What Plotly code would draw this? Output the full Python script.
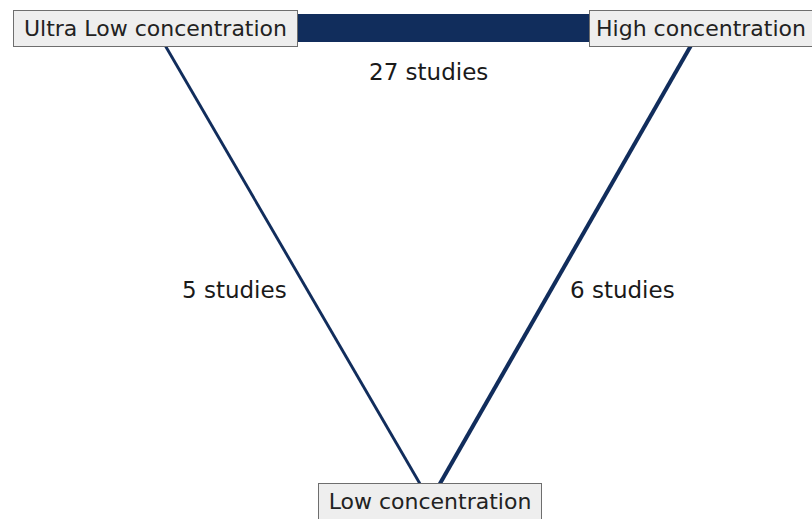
import plotly.graph_objects as go

# ---- data ----
nodes = ["Ultra Low concentration", "High concentration", "Low concentration"]
edge_from = ["Ultra Low concentration", "Ultra Low concentration", "High concentration"]
edge_to = ["High concentration", "Low concentration", "Low concentration"]
edge_studies = [27, 5, 6]

# ---- layout (node placement in plot coordinates, y downwards) ----
node_pos = {
    "Ultra Low concentration": (155, 28),
    "High concentration": (701, 28),
    "Low concentration": (430, 501),
}
node_box_w = {
    "Ultra Low concentration": 273,
    "High concentration": 212,
    "Low concentration": 212,
}
label_shift = [(0, -44), (-58, -25), (57, -25)]

EDGE_COLOR = "#112d5c"


def edge_width(s):
    return 1.14 * s - 2.8


fig = go.Figure()

for f, t, s in zip(edge_from, edge_to, edge_studies):
    x0, y0 = node_pos[f]
    x1, y1 = node_pos[t]
    fig.add_trace(go.Scatter(
        x=[x0, x1], y=[y0, y1], mode="lines",
        line=dict(color=EDGE_COLOR, width=edge_width(s)),
        hoverinfo="skip", showlegend=False,
    ))

# edge labels
for (f, t, s), (dx, dy) in zip(zip(edge_from, edge_to, edge_studies), label_shift):
    x0, y0 = node_pos[f]
    x1, y1 = node_pos[t]
    fig.add_annotation(
        x=(x0 + x1) / 2, y=(y0 + y1) / 2, text=f"{s} studies",
        showarrow=False, xshift=dx, yshift=dy,
        font=dict(family="DejaVu Sans", size=23, color="#1a1a1a"),
    )

# node boxes
for n in nodes:
    x, y = node_pos[n]
    fig.add_annotation(
        x=x, y=y, text=n, showarrow=False, width=node_box_w[n],
        font=dict(family="DejaVu Sans", size=22, color="#222222"),
        bgcolor="#eeeeee", bordercolor="#6e6e6e", borderwidth=1, borderpad=5,
    )

fig.update_xaxes(range=[0, 812], visible=False, fixedrange=True)
fig.update_yaxes(range=[519, 0], visible=False, fixedrange=True)
fig.update_layout(
    width=812, height=519,
    margin=dict(l=0, r=0, t=0, b=0),
    paper_bgcolor="white", plot_bgcolor="white",
    showlegend=False,
)

fig.write_html(
    "out.html",
    config={"displayModeBar": False},
    post_script="document.body.style.margin='0px';document.body.style.overflow='hidden';",
)
